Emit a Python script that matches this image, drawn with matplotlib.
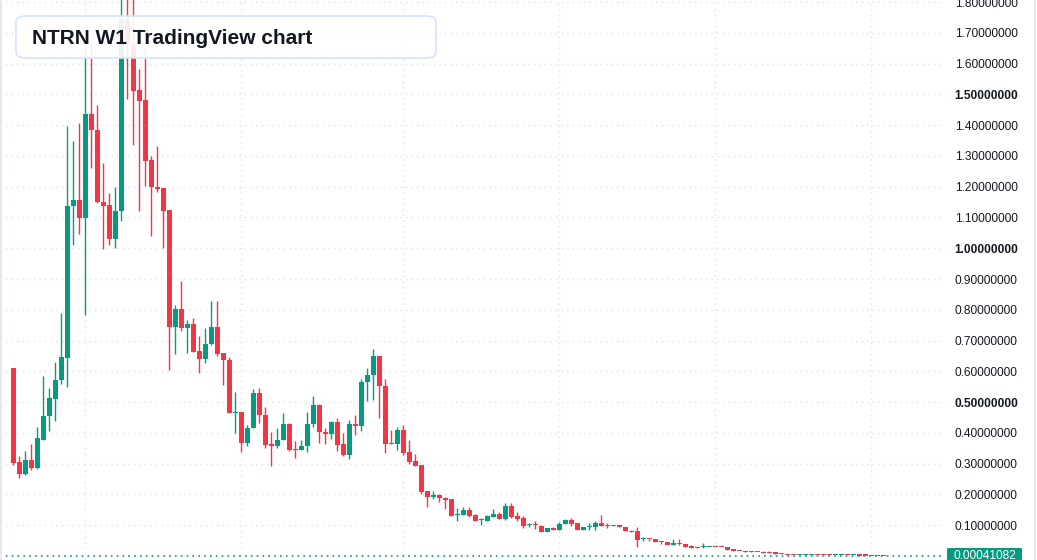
import matplotlib.pyplot as plt
from matplotlib.patches import FancyBboxPatch, Rectangle
import numpy as np

plt.rcParams['font.family'] = ['Liberation Sans', 'DejaVu Sans']

# Weekly OHLC values
opens = [0.609, 0.304, 0.265, 0.313, 0.285, 0.378, 0.454, 0.509, 0.571, 0.643,
         1.136, 1.157, 1.097, 1.437, 1.385, 1.150, 1.142, 1.029, 1.121, 1.744,
         1.663, 1.513, 1.481, 1.286, 1.200, 1.195, 1.123, 0.744, 0.801, 0.740,
         0.755, 0.665, 0.639, 0.687, 0.743, 0.658, 0.638, 0.464, 0.466, 0.366,
         0.414, 0.528, 0.459, 0.362, 0.357, 0.378, 0.427, 0.346, 0.344, 0.356,
         0.427, 0.489, 0.404, 0.395, 0.434, 0.362, 0.327, 0.430, 0.422, 0.564,
         0.587, 0.648, 0.553, 0.365, 0.364, 0.409, 0.336, 0.307, 0.294, 0.209,
         0.192, 0.197, 0.189, 0.183, 0.132, 0.134, 0.150, 0.134, 0.115, 0.112,
         0.127, 0.137, 0.121, 0.163, 0.129, 0.123, 0.100, 0.101, 0.098, 0.076,
         0.091, 0.083, 0.102, 0.117, 0.108, 0.085, 0.092, 0.092, 0.108, 0.099,
         0.098, 0.098, 0.095, 0.082, 0.082, 0.053, 0.055, 0.054, 0.047, 0.044,
         0.035, 0.040, 0.037, 0.031, 0.028, 0.028, 0.028, 0.030, 0.030, 0.027,
         0.021, 0.017, 0.013, 0.015, 0.013, 0.012, 0.012, 0.012, 0.007, 0.005,
         0.004, 0.002, 0.0025, 0.003, 0.0032, 0.002, 0.0015, 0.001, 0.0012, 0.0013,
         0.0009, 0.001, 0.0008, 0.0006, 0.0005, 0.0004]
highs = [0.612, 0.326, 0.342, 0.365, 0.419, 0.584, 0.546, 0.629, 0.789, 1.398,
         1.349, 1.408, 1.657, 1.666, 1.466, 1.278, 1.181, 1.200, 1.850, 1.900,
         1.850, 1.582, 1.649, 1.300, 1.332, 1.197, 1.125, 0.815, 0.892, 0.768,
         0.773, 0.716, 0.740, 0.830, 0.830, 0.658, 0.647, 0.533, 0.466, 0.424,
         0.541, 0.547, 0.485, 0.401, 0.414, 0.463, 0.431, 0.372, 0.378, 0.466,
         0.521, 0.492, 0.417, 0.437, 0.447, 0.398, 0.443, 0.459, 0.576, 0.609,
         0.672, 0.651, 0.574, 0.409, 0.419, 0.424, 0.378, 0.330, 0.294, 0.210,
         0.212, 0.202, 0.190, 0.183, 0.155, 0.157, 0.159, 0.137, 0.124, 0.134,
         0.153, 0.141, 0.170, 0.173, 0.143, 0.129, 0.108, 0.114, 0.099, 0.091,
         0.095, 0.110, 0.119, 0.122, 0.108, 0.095, 0.108, 0.114, 0.134, 0.108,
         0.101, 0.099, 0.095, 0.085, 0.092, 0.062, 0.055, 0.054, 0.047, 0.044,
         0.054, 0.054, 0.037, 0.034, 0.030, 0.040, 0.030, 0.030, 0.030, 0.027,
         0.023, 0.017, 0.017, 0.017, 0.013, 0.015, 0.014, 0.012, 0.008, 0.007,
         0.004, 0.0025, 0.003, 0.0032, 0.0032, 0.002, 0.0015, 0.0012, 0.0013, 0.0013,
         0.001, 0.001, 0.0008, 0.0006, 0.0005, 0.00045]
lows = [0.294, 0.253, 0.261, 0.278, 0.283, 0.375, 0.407, 0.438, 0.559, 0.549,
        1.009, 1.045, 0.782, 1.260, 1.146, 0.997, 1.009, 1.000, 1.089, 1.484,
        1.336, 1.121, 1.202, 1.040, 1.183, 1.000, 0.604, 0.655, 0.731, 0.658,
        0.662, 0.594, 0.627, 0.684, 0.650, 0.555, 0.464, 0.399, 0.337, 0.357,
        0.414, 0.431, 0.350, 0.292, 0.352, 0.375, 0.342, 0.318, 0.344, 0.339,
        0.418, 0.366, 0.363, 0.380, 0.340, 0.324, 0.314, 0.392, 0.405, 0.503,
        0.505, 0.449, 0.335, 0.362, 0.343, 0.327, 0.300, 0.291, 0.201, 0.158,
        0.186, 0.175, 0.151, 0.130, 0.112, 0.134, 0.127, 0.112, 0.101, 0.112,
        0.127, 0.121, 0.117, 0.124, 0.114, 0.091, 0.095, 0.088, 0.076, 0.076,
        0.083, 0.083, 0.102, 0.096, 0.085, 0.085, 0.085, 0.085, 0.098, 0.091,
        0.096, 0.092, 0.079, 0.076, 0.027, 0.047, 0.047, 0.045, 0.039, 0.035,
        0.035, 0.035, 0.028, 0.025, 0.024, 0.025, 0.028, 0.028, 0.028, 0.019,
        0.015, 0.015, 0.013, 0.013, 0.011, 0.010, 0.010, 0.007, 0.005, 0.003,
        0.002, 0.002, 0.0025, 0.003, 0.002, 0.0015, 0.001, 0.001, 0.001, 0.0009,
        0.0009, 0.0008, 0.0006, 0.0005, 0.0004, 0.0004]
closes = [0.302, 0.265, 0.313, 0.285, 0.382, 0.456, 0.512, 0.573, 0.645, 1.138,
          1.157, 1.097, 1.437, 1.383, 1.150, 1.139, 1.029, 1.122, 1.744, 1.663,
          1.511, 1.479, 1.284, 1.200, 1.192, 1.121, 0.744, 0.801, 0.740, 0.755,
          0.663, 0.639, 0.687, 0.743, 0.655, 0.637, 0.464, 0.466, 0.366, 0.414,
          0.528, 0.457, 0.360, 0.357, 0.378, 0.427, 0.344, 0.344, 0.356, 0.427,
          0.489, 0.402, 0.395, 0.434, 0.360, 0.327, 0.430, 0.422, 0.564, 0.587,
          0.648, 0.551, 0.364, 0.362, 0.409, 0.334, 0.305, 0.292, 0.206, 0.190,
          0.196, 0.187, 0.180, 0.130, 0.136, 0.150, 0.130, 0.112, 0.117, 0.130,
          0.137, 0.121, 0.163, 0.127, 0.121, 0.098, 0.102, 0.099, 0.076, 0.091,
          0.083, 0.104, 0.117, 0.104, 0.085, 0.095, 0.095, 0.108, 0.098, 0.097,
          0.096, 0.095, 0.079, 0.078, 0.050, 0.055, 0.053, 0.045, 0.045, 0.035,
          0.040, 0.038, 0.028, 0.025, 0.026, 0.031, 0.030, 0.028, 0.028, 0.019,
          0.015, 0.015, 0.015, 0.013, 0.011, 0.010, 0.010, 0.007, 0.005, 0.003,
          0.002, 0.0025, 0.003, 0.0032, 0.002, 0.0015, 0.001, 0.0012, 0.0013, 0.0009,
          0.001, 0.0008, 0.0006, 0.0005, 0.0004, 0.00041082]

price_ticks = [round(0.1 * k, 1) for k in range(1, 19)]
bold_ticks = [0.5, 1.0, 1.5]
week_grid = [12, 38, 65, 91, 117, 143]
last_price = 0.00041082
title = "NTRN W1 TradingView chart"

UP = "#089981"
DOWN = "#F23645"
GRID = "#dfe2e8"
TEXT = "#131722"

W, H = 1037, 560
fig = plt.figure(figsize=(W / 100, H / 100), dpi=100)
ax = fig.add_axes([0, 0, 945 / W, 1])

o = np.array(opens)
c = np.array(closes)
hi = np.array(highs)
lo = np.array(lows)
x = np.arange(len(o))
up = c >= o
cols = np.where(up, UP, DOWN)

# grid
for v in price_ticks:
    ax.axhline(v, color=GRID, lw=1, ls=(0, (1, 3)), zorder=0)
for g in week_grid:
    ax.axvline(g, color=GRID, lw=1, ls=(0, (1, 3)), zorder=0)

# candles
ax.vlines(x, lo, hi, colors=cols, lw=1, zorder=2)
bottom = np.minimum(o, c)
height = np.maximum(np.abs(c - o), 0.0035)
ax.bar(x, height, bottom=bottom, width=0.76, color=cols, linewidth=0, zorder=3)

# last price line
ax.axhline(last_price, color=UP, lw=1.2, ls=(0, (1, 2.5)), zorder=4)

ax.set_xlim(-13.3 / 6, (945 - 13.3) / 6)
ax.set_ylim(-0.0138, 1.8073)
for s in ax.spines.values():
    s.set_visible(False)
ax.set_xticks([])
ax.yaxis.tick_right()
ax.set_yticks(price_ticks)
ax.set_yticklabels([f"{v:.8f}" for v in price_ticks])
ax.tick_params(axis='y', length=0, pad=7, labelsize=8.6, labelcolor=TEXT)
for lab, v in zip(ax.get_yticklabels(), price_ticks):
    if v in bold_ticks:
        lab.set_fontweight('bold')

# last price label
fig.patches.append(FancyBboxPatch((947 / W, (H - 565) / H), 75 / W, 17 / H,
                                  boxstyle="round,pad=0,rounding_size=0.002",
                                  transform=fig.transFigure, facecolor=UP,
                                  edgecolor='none', zorder=5))
fig.text(985 / W, (H - 556) / H, f"{last_price:.8f}", color='white', fontsize=8.6,
         ha='center', va='center', zorder=6)

# borders
fig.patches.append(Rectangle((0, 0), 2 / W, 1, transform=fig.transFigure,
                             facecolor="#e6e8ee", edgecolor='none'))
fig.patches.append(Rectangle((1034 / W, 0), 1.5 / W, 1, transform=fig.transFigure,
                             facecolor="#e6e8ee", edgecolor='none'))

# title box
fig.patches.append(FancyBboxPatch((16 / W, (H - 58) / H), 420 / W, 42 / H,
                                  boxstyle="round,pad=0,rounding_size=0.01",
                                  transform=fig.transFigure, facecolor=(1, 1, 1, 0.9),
                                  edgecolor="#d5e3f8", lw=1.2, zorder=7))
fig.text(32 / W, (H - 38.5) / H, title, fontsize=15, fontweight='bold',
         color=TEXT, ha='left', va='center', zorder=8)

fig.savefig("out.png", dpi=100)
